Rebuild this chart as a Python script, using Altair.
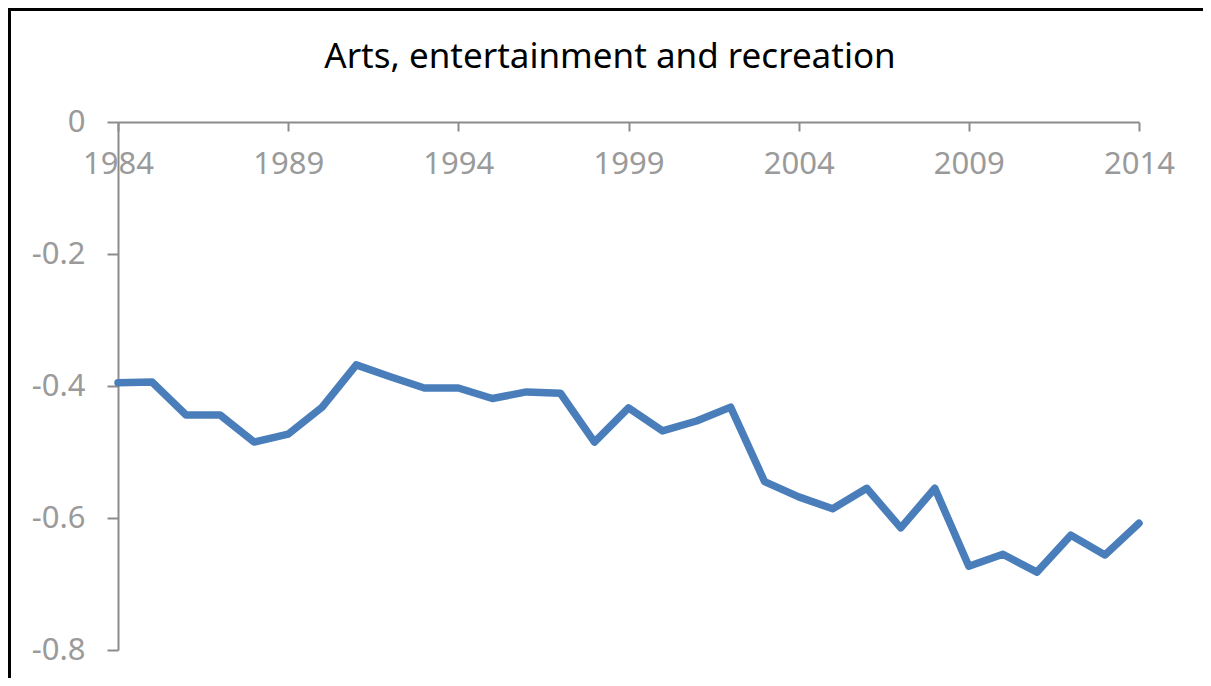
import altair as alt
import pandas as pd

years = list(range(1984, 2015))
values = [-0.395, -0.394, -0.444, -0.444, -0.485, -0.473, -0.432, -0.368,
          -0.386, -0.403, -0.403, -0.419, -0.409, -0.411, -0.485, -0.433,
          -0.468, -0.453, -0.432, -0.545, -0.568, -0.586, -0.555, -0.615,
          -0.555, -0.673, -0.655, -0.682, -0.626, -0.656, -0.608]
x_ticks = [1984, 1989, 1994, 1999, 2004, 2009, 2014]
y_ticks = [0, -0.2, -0.4, -0.6, -0.8]
title_text = "Arts, entertainment and recreation"

df = pd.DataFrame({"year": years, "value": values})

W, H = 1021, 528
FONT = "Noto Sans"
AXIS_GRAY = "#8c8c8c"
LABEL_GRAY = "#9a9a9a"

line = alt.Chart(df).mark_line(
    color="#4a7ebb", strokeWidth=7.5, strokeJoin="round", strokeCap="round"
).encode(
    x=alt.X("year:Q", scale=alt.Scale(domain=[1984, 2014], nice=False, zero=False),
            axis=alt.Axis(orient="bottom", offset=-H, values=x_ticks, format="d",
                          title=None, grid=False, domainColor=AXIS_GRAY, domainWidth=2,
                          tickColor=AXIS_GRAY, tickWidth=2, tickSize=9,
                          labelColor=LABEL_GRAY, labelFont=FONT, labelFontSize=31,
                          labelPadding=18, labelOverlap=False, labelFlush=False)),
    y=alt.Y("value:Q", scale=alt.Scale(domain=[-0.8, 0], nice=False, zero=False),
            axis=alt.Axis(values=y_ticks, title=None, grid=False,
                          labelExpr="datum.value == 0 ? '0' : '-' + format(-datum.value, '.1f')",
                          domainColor=AXIS_GRAY, domainWidth=2,
                          tickColor=AXIS_GRAY, tickWidth=2, tickSize=11,
                          labelColor=LABEL_GRAY, labelFont=FONT, labelFontSize=31,
                          labelPadding=22, labelOverlap=False, labelFlush=False)),
)

one = pd.DataFrame({"title": [title_text]})

title_mark = alt.Chart(one).mark_text(
    font=FONT, fontSize=35, color="black", align="center", baseline="alphabetic"
).encode(text="title:N", x=alt.value(492), y=alt.value(-54))

border_top = alt.Chart(one).mark_rule(color="black", strokeWidth=3).encode(
    x=alt.value(-110), x2=alt.value(1100), y=alt.value(-112.5))
border_left = alt.Chart(one).mark_rule(color="black", strokeWidth=3).encode(
    x=alt.value(-108.5), y=alt.value(-114), y2=alt.value(600))

chart = alt.layer(line, title_mark, border_top, border_left).properties(
    width=W, height=H,
    autosize=alt.AutoSizeParams(type="none"),
    padding={"left": 110, "top": 114, "right": 64, "bottom": 28},
).configure(background="white", view=alt.ViewConfig(strokeWidth=0))

chart.save("out.html", embed_options={"renderer": "svg", "actions": False})
